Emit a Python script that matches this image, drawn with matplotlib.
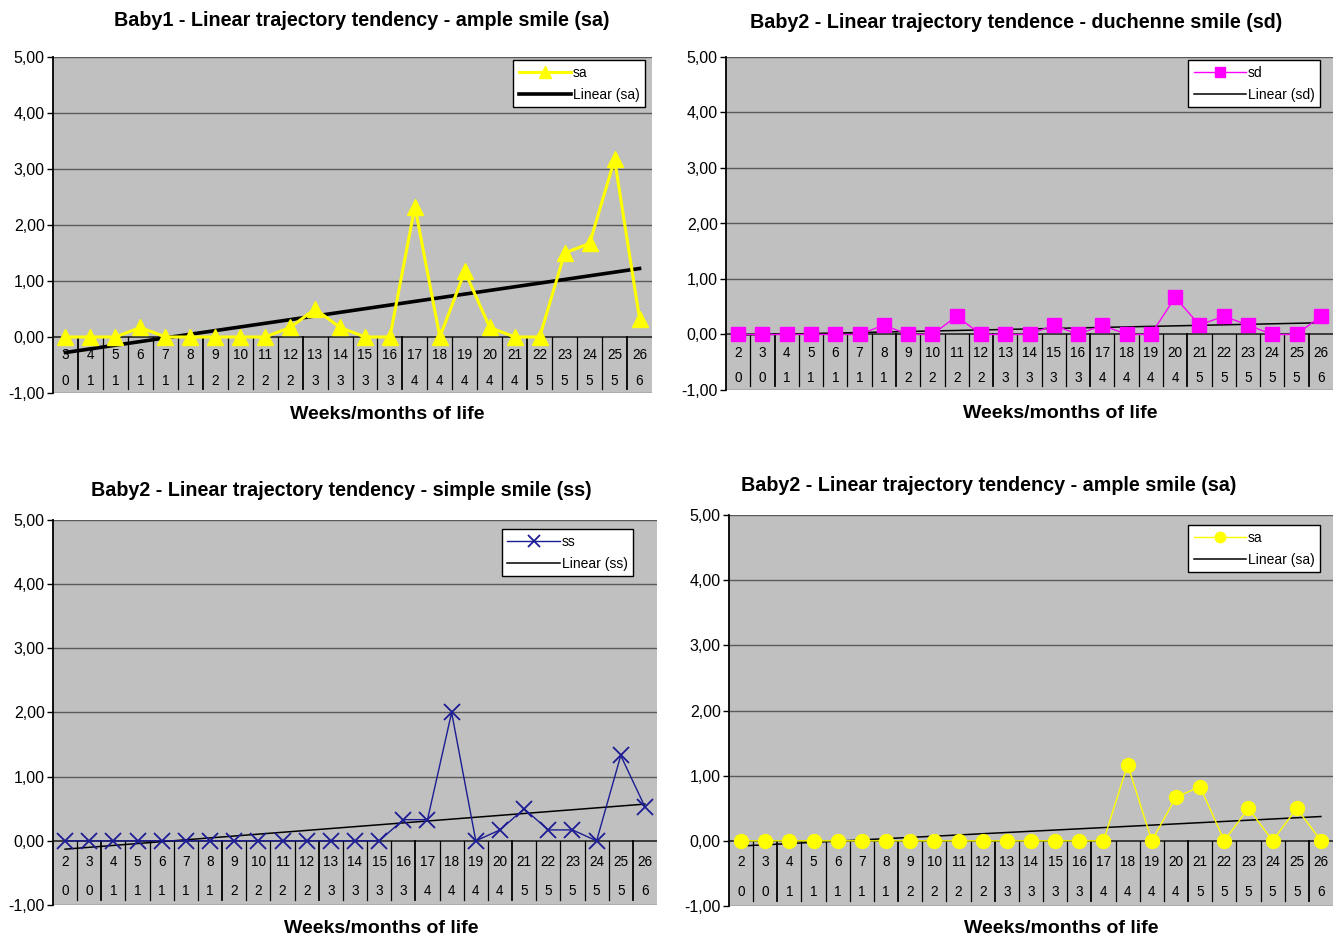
import numpy as np
import matplotlib
matplotlib.use("Agg")
import matplotlib.pyplot as plt
from matplotlib.ticker import FuncFormatter

plt.rcParams['font.family'] = ['Liberation Sans', 'DejaVu Sans']

# ---------------- data ----------------
weeks1 = [3, 4, 5, 6, 7, 8, 9, 10, 11, 12, 13, 14, 15, 16, 17, 18, 19, 20, 21, 22, 23, 24, 25, 26]
months1 = [0, 1, 1, 1, 1, 1, 2, 2, 2, 2, 3, 3, 3, 3, 4, 4, 4, 4, 4, 5, 5, 5, 5, 6]
baby1_sa = [0, 0, 0, 0.17, 0, 0, 0, 0, 0, 0.17, 0.5, 0.17, 0, 0, 2.33, 0, 1.17, 0.17, 0, 0,
            1.5, 1.67, 3.17, 0.33]

weeks2 = [2, 3, 4, 5, 6, 7, 8, 9, 10, 11, 12, 13, 14, 15, 16, 17, 18, 19, 20, 21, 22, 23, 24, 25, 26]
months2 = [0, 0, 1, 1, 1, 1, 1, 2, 2, 2, 2, 3, 3, 3, 3, 4, 4, 4, 4, 5, 5, 5, 5, 5, 6]
baby2_sd = [0, 0, 0, 0, 0, 0, 0.17, 0, 0, 0.33, 0, 0, 0, 0.17, 0, 0.17, 0, 0, 0.67, 0.17,
            0.33, 0.17, 0, 0, 0.33]
baby2_ss = [0, 0, 0, 0, 0, 0, 0, 0, 0, 0, 0, 0, 0, 0, 0.33, 0.33, 2.0, 0, 0.17, 0.5,
            0.17, 0.17, 0, 1.33, 0.53]
baby2_sa = [0, 0, 0, 0, 0, 0, 0, 0, 0, 0, 0, 0, 0, 0, 0, 0, 1.17, 0, 0.67, 0.83,
            0, 0.5, 0, 0.5, 0]

titles = ["Baby1 - Linear trajectory tendency - ample smile (sa)",
          "Baby2 - Linear trajectory tendence - duchenne smile (sd)",
          "Baby2 - Linear trajectory tendency - simple smile (ss)",
          "Baby2 - Linear trajectory tendency - ample smile (sa)"]
xlabel = "Weeks/months of life"
yticks = [-1, 0, 1, 2, 3, 4, 5]

W, H = 1335, 938
fig = plt.figure(figsize=(W / 100, H / 100), dpi=100)
fig.patch.set_facecolor('white')


def px_axes(l, r, t, b):
    return fig.add_axes([l / W, 1 - b / H, (r - l) / W, (b - t) / H])


panels = [
    dict(box=(53, 652, 57, 393), weeks=weeks1, months=months1, vals=baby1_sa, name='sa',
         color='#ffff00', marker='^', ms=12, lw=2.2, tlw=2.6, mec='#ffff00', mew=1,
         title=titles[0], tpos=(362, 20), xpos=(387, 414),
         leg=(645, 60)),
    dict(box=(726, 1333, 57, 390), weeks=weeks2, months=months2, vals=baby2_sd, name='sd',
         color='#ff00ff', marker='s', ms=10, lw=1.0, tlw=1.1, mec='#ff00ff', mew=1,
         title=titles[1], tpos=(1016, 22), xpos=(1060, 413),
         leg=(1320, 60)),
    dict(box=(53, 657, 520, 905), weeks=weeks2, months=months2, vals=baby2_ss, name='ss',
         color='#1c1c94', marker='x', ms=11, lw=1.0, tlw=1.1, mec='#1c1c94', mew=1.3,
         title=titles[2], tpos=(341, 490), xpos=(381, 928),
         leg=(633, 529)),
    dict(box=(729, 1333, 515, 906), weeks=weeks2, months=months2, vals=baby2_sa, name='sa',
         color='#ffff00', marker='o', ms=10, lw=1.0, tlw=1.1, mec='#ffff00', mew=1,
         title=titles[3], tpos=(989, 485), xpos=(1061, 928),
         leg=(1320, 525)),
]

fmt = FuncFormatter(lambda v, p: ("%.2f" % v).replace('.', ','))

for P in panels:
    l, r, t, b = P['box']
    ax = px_axes(l, r, t, b)
    n = len(P['weeks'])
    x = np.arange(n)
    y = np.array(P['vals'], dtype=float)
    ax.set_facecolor('#c0c0c0')
    ax.set_xlim(-0.5, n - 0.5)
    ax.set_ylim(-1, 5)
    ax.set_yticks(yticks)
    ax.yaxis.set_major_formatter(fmt)
    ax.tick_params(axis='y', labelsize=11.5, length=4, width=1, direction='out', pad=2)
    ax.set_xticks([])
    for s in ['top', 'right', 'bottom']:
        ax.spines[s].set_visible(False)
    ax.spines['left'].set_linewidth(1.3)
    ax.spines['left'].set_color('black')
    for g in [1, 2, 3, 4, 5, -1]:
        ax.axhline(g, color='#5a5a5a', lw=1.0, zorder=1)
    ax.axhline(0, color='#303030', lw=1.3, zorder=2)

    # category table below the axis
    for i in range(n - 1):
        thick = P['months'][i] != P['months'][i + 1]
        ax.plot([i + 0.5, i + 0.5], [0, -0.92], color='black',
                lw=1.3 if thick else 0.9, zorder=2)
    for i in range(n):
        ax.text(x[i], -0.33, str(P['weeks'][i]), ha='center', va='center', fontsize=9.8)
        ax.text(x[i], -0.78, str(P['months'][i]), ha='center', va='center', fontsize=9.8)

    # trend line
    k, c0 = np.polyfit(x, y, 1)
    ax.plot(x, k * x + c0, color='black', lw=P['tlw'], zorder=3,
            label='Linear (%s)' % P['name'])
    ax.plot(x, y, color=P['color'], lw=P['lw'], marker=P['marker'], ms=P['ms'],
            mfc=P['color'], mec=P['mec'], mew=P['mew'], zorder=4, label=P['name'],
            clip_on=False)
    h, lab = ax.get_legend_handles_labels()
    lx, ly = P['leg']
    leg = ax.legend([h[1], h[0]], [lab[1], lab[0]], loc='upper right',
                    bbox_to_anchor=((lx - l) / (r - l), 1 - (ly - t) / (b - t)),
                    borderaxespad=0, fontsize=10, frameon=True, fancybox=False,
                    edgecolor='black', framealpha=1, handlelength=3.8,
                    handletextpad=0.1, borderpad=0.4, labelspacing=0.6,
                    markerscale=0.75)
    leg.get_frame().set_linewidth(1.0)

    fig.text(P['tpos'][0] / W, 1 - P['tpos'][1] / H, P['title'], ha='center',
             va='center', fontsize=14.2, fontweight='bold')
    fig.text(P['xpos'][0] / W, 1 - P['xpos'][1] / H, xlabel, ha='center',
             va='center', fontsize=14, fontweight='bold')

fig.savefig('out.png', dpi=100)
